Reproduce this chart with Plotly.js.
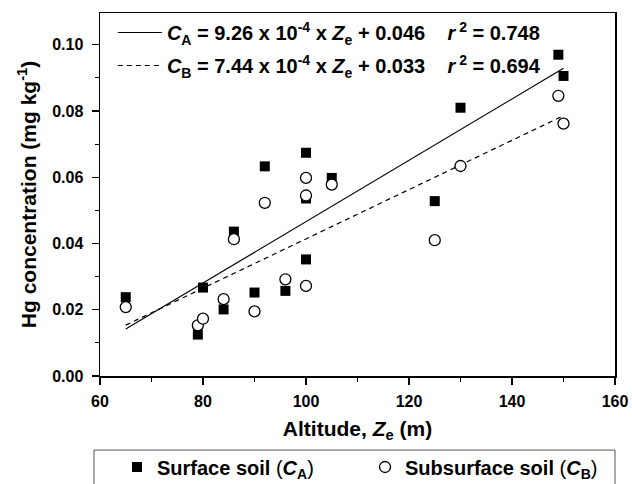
<!DOCTYPE html>
<html><head><meta charset="utf-8">
<script src="https://cdn.plot.ly/plotly-3.0.1.min.js"></script>
<style>html,body{margin:0;padding:0;background:#fff}#chart{width:632px;height:484px}</style>
</head><body><div id="chart"></div>
<script>
// Surface soil (C_A)
const surfX = [65, 79, 80, 84, 86, 90, 92, 96, 100, 100, 100, 105, 125, 130, 149, 150];
const surfY = [0.0238, 0.0125, 0.0267, 0.0201, 0.0436, 0.0252, 0.0633, 0.0257, 0.0674, 0.0536, 0.0352, 0.0598, 0.0528, 0.0810, 0.0970, 0.0906];
// Subsurface soil (C_B)
const subX = [65, 79, 80, 84, 86, 90, 92, 96, 100, 100, 100, 105, 125, 130, 149, 150];
const subY = [0.0208, 0.0153, 0.0173, 0.0232, 0.0413, 0.0195, 0.0523, 0.0292, 0.0598, 0.0545, 0.0272, 0.0578, 0.0410, 0.0634, 0.0846, 0.0762];
// Regression lines (slope, intercept as fitted in the figure)
const lineX = [65, 150];
const slopeA = 9.26e-4, interceptA = -0.046;
const slopeB = 7.44e-4, interceptB = -0.033;
const lineA = lineX.map(x => slopeA * x + interceptA);
const lineB = lineX.map(x => slopeB * x + interceptB);
const xTicks = [60, 80, 100, 120, 140, 160];
const yTicks = [0.00, 0.02, 0.04, 0.06, 0.08, 0.10];

const F = '"Liberation Sans", Arial, sans-serif';
const N = s => '<span style="font-weight:normal">' + s + '</span>';
const traces = [
  {x: lineX, y: lineA, mode: 'lines', line: {color: '#000', width: 1.2, dash: 'solid'},
   name: '<b><i>C</i><sub>A</sub> = 9.26 x 10<sup>-4</sup> x <i>Z</i><sub>e</sub> + 0.046 \u00a0\u00a0 <i>r</i><sup> 2</sup> = 0.748</b>',
   legend: 'legend', legendgroup: 'a'},
  {x: lineX, y: lineB, mode: 'lines', line: {color: '#000', width: 1.2, dash: '5px,4px'},
   name: '<b><i>C</i><sub>B</sub> = 7.44 x 10<sup>-4</sup> x <i>Z</i><sub>e</sub> + 0.033 \u00a0\u00a0 <i>r</i><sup> 2</sup> = 0.694</b>',
   legend: 'legend', legendgroup: 'b'},
  {x: surfX, y: surfY, mode: 'markers', marker: {symbol: 'square', size: 10, color: '#000'},
   name: '<b>Surface soil ' + N('(') + '<i>C</i><sub>A</sub>' + N(')') + '</b>', legend: 'legend2'},
  {x: subX, y: subY, mode: 'markers', marker: {symbol: 'circle', size: 11, color: '#fff', line: {color: '#000', width: 1.3}},
   name: '<b>Subsurface soil ' + N('(') + '<i>C</i><sub>B</sub>' + N(')') + '</b>', legend: 'legend3'}
];
const layout = {
  width: 632, height: 484,
  margin: {l: 100, r: 17, t: 13, b: 108, autoexpand: false},
  paper_bgcolor: '#fff', plot_bgcolor: '#fff',
  font: {family: F, color: '#000', size: 16},
  xaxis: {range: [60, 160], tickvals: xTicks, ticktext: xTicks.map(String),
    ticks: 'outside', ticklen: 7, tickwidth: 1.3, tickcolor: '#000', ticklabelstandoff: 3,
    minor: {dtick: 10, tick0: 60, ticks: 'outside', ticklen: 4, tickwidth: 1.1, tickcolor: '#000'},
    showline: true, linecolor: '#000', linewidth: 1.5, mirror: true, showgrid: false, zeroline: false,
    tickfont: {family: F, size: 16, color: '#000', weight: 'bold'},
    title: {text: '<b>Altitude, <i>Z</i><sub>e</sub> (m)</b>', font: {family: F, size: 21, color: '#000'}, standoff: 12}},
  yaxis: {range: [0, 0.1096], tickvals: yTicks, ticktext: yTicks.map(v => v.toFixed(2)),
    ticks: 'outside', ticklen: 7, tickwidth: 1.3, tickcolor: '#000', ticklabelstandoff: 5,
    minor: {dtick: 0.01, tick0: 0, ticks: 'outside', ticklen: 4, tickwidth: 1.1, tickcolor: '#000'},
    showline: true, linecolor: '#000', linewidth: 1.5, mirror: true, showgrid: false, zeroline: false,
    tickfont: {family: F, size: 16, color: '#000', weight: 'bold'},
    title: {text: '<b>Hg concentration (mg kg<sup>-1</sup>)</b>', font: {family: F, size: 21, color: '#000'}, standoff: 10}},
  legend: {x: 0.025, y: 1, xanchor: 'left', yanchor: 'top', bgcolor: 'rgba(0,0,0,0)', borderwidth: 0,
    font: {family: F, size: 20, color: '#000'}, tracegroupgap: 4, itemwidth: 44},
  legend2: {x: 0.033, y: -0.2507, xanchor: 'left', yanchor: 'middle', bgcolor: 'rgba(0,0,0,0)', borderwidth: 0,
    font: {family: F, size: 20, color: '#000'}},
  legend3: {x: 0.5146, y: -0.2507, xanchor: 'left', yanchor: 'middle', bgcolor: 'rgba(0,0,0,0)', borderwidth: 0,
    font: {family: F, size: 20, color: '#000'}, itemwidth: 30},
  shapes: [{type: 'rect', xref: 'paper', yref: 'paper', x0: -0.0117, x1: 1.0, y0: -0.33, y1: -0.204,
    line: {color: '#555', width: 1}, fillcolor: 'rgba(0,0,0,0)', layer: 'below'}],
  showlegend: true
};
Plotly.newPlot('chart', traces, layout, {displayModeBar: false, staticPlot: true});
</script></body></html>
